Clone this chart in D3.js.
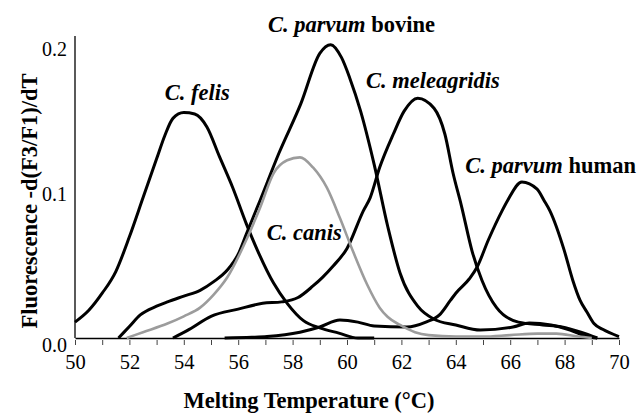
<!DOCTYPE html>
<html>
<head>
<meta charset="utf-8">
<script src="https://cdn.jsdelivr.net/npm/d3@7"></script>
<style>
  html, body { margin: 0; padding: 0; background: #fff; }
  svg { display: block; }
  text { font-family: "Liberation Serif", "Times New Roman", serif; }
</style>
</head>
<body>
<svg id="chart" width="637" height="415"></svg>
<script>
// ---- data ----
const xTicks = [50, 52, 54, 56, 58, 60, 62, 64, 66, 68, 70];
const yTicks = [0.0, 0.1, 0.2];
const yTickLabels = ["0.0", "0.1", "0.2"];

const felis = [[50.0,0.011],[50.5,0.019],[51.0,0.031],[51.5,0.046],[52.0,0.070],[52.5,0.097],[53.0,0.124],[53.3,0.140],[53.6,0.152],[54.0,0.156],[54.4,0.155],[54.85,0.146],[55.3,0.126],[55.8,0.104],[56.3,0.079],[56.7,0.061],[57.3,0.038],[57.8,0.024],[58.4,0.012],[59.0,0.007],[59.7,0.0034],[60.4,0.0],[61.0,0.0]];
const bovine = [[51.6,0.0],[52.0,0.008],[52.4,0.016],[53.0,0.022],[53.4,0.025],[54.0,0.029],[54.6,0.033],[55.1,0.039],[55.6,0.047],[56.0,0.058],[56.3,0.072],[56.8,0.095],[57.5,0.128],[58.3,0.162],[59.0,0.197],[59.4,0.203],[59.8,0.194],[60.1,0.180],[60.5,0.157],[61.0,0.120],[61.5,0.077],[61.95,0.045],[62.6,0.022],[63.2,0.013],[64.0,0.009],[64.9,0.0055],[66.1,0.0076],[66.7,0.0103],[67.5,0.009],[68.2,0.0055],[68.9,0.0007],[69.2,0.0]];
const canis = [[51.9,0.0],[52.5,0.004],[53.4,0.010],[54.0,0.015],[54.6,0.021],[55.1,0.030],[55.6,0.042],[56.3,0.068],[56.8,0.090],[57.3,0.114],[57.8,0.123],[58.27,0.125],[58.75,0.118],[59.26,0.104],[59.74,0.083],[60.22,0.060],[60.74,0.037],[61.2,0.021],[61.5,0.0145],[61.95,0.009],[62.5,0.004],[63.0,0.002],[64.0,0.001],[65.0,0.001],[66.0,0.002],[67.0,0.003],[67.7,0.003],[68.5,0.001],[69.0,0.0]];
const meleagridis = [[53.6,0.0],[54.2,0.006],[55.0,0.015],[56.0,0.020],[56.9,0.024],[57.6,0.025],[58.2,0.028],[58.75,0.036],[59.1,0.042],[59.5,0.050],[60.0,0.062],[60.6,0.088],[60.85,0.097],[61.2,0.118],[61.7,0.141],[62.1,0.157],[62.6,0.166],[63.2,0.159],[63.6,0.141],[63.9,0.114],[64.2,0.092],[64.6,0.060],[64.96,0.040],[65.5,0.021],[66.3,0.011],[67.2,0.009],[67.9,0.0076],[68.6,0.004],[69.2,0.0]];
const human = [[55.5,0.0],[56.5,0.0005],[57.06,0.001],[58.27,0.004],[59.0,0.0076],[59.74,0.0124],[60.4,0.011],[61.0,0.0083],[62.2,0.0076],[62.9,0.011],[63.4,0.016],[63.8,0.026],[64.0,0.031],[64.5,0.041],[64.78,0.049],[65.2,0.068],[65.7,0.088],[65.9,0.095],[66.43,0.108],[66.99,0.103],[67.25,0.095],[67.46,0.088],[67.98,0.061],[68.3,0.040],[68.57,0.026],[68.82,0.018],[69.08,0.010],[69.4,0.0060],[70.0,0.001]];

const labels = [
  {it: "C. felis", rm: "", x: 53.3, y: 0.165},
  {it: "C. parvum", rm: " bovine", x: 57.1, y: 0.212},
  {it: "C. meleagridis", rm: "", x: 60.7, y: 0.173},
  {it: "C. parvum", rm: " human", x: 64.35, y: 0.114},
  {it: "C. canis", rm: "", x: 57.05, y: 0.068}
];

// ---- drawing ----
const svg = d3.select("#chart");
const x = d3.scaleLinear().domain([50, 70]).range([75, 619]);
const y = d3.scaleLinear().domain([0, 0.2]).range([338, 49]);

const line = d3.line().x(d => x(d[0])).y(d => y(d[1])).curve(d3.curveMonotoneX);

// y axis line
svg.append("line").attr("x1", 75).attr("x2", 75).attr("y1", 36).attr("y2", 338)
  .attr("stroke", "#000").attr("stroke-width", 1.3);

// y tick labels
svg.selectAll(".ytl").data(yTicks).join("text")
  .attr("x", 67).attr("y", (d, i) => y(d) + (i === 0 ? 14 : 7))
  .attr("text-anchor", "end").attr("font-size", 20).attr("fill", "#000")
  .text((d, i) => yTickLabels[i]);

// x axis
const xAxis = d3.axisBottom(x).tickValues(d3.range(50, 71, 1)).tickSize(5).tickSizeOuter(0)
  .tickFormat(d => xTicks.includes(d) ? d : "");
const gx = svg.append("g").attr("transform", "translate(0,338)").call(xAxis);
gx.select(".domain").attr("stroke", "#000").attr("stroke-width", 1.3);
gx.selectAll(".tick line").attr("stroke", "#444").attr("stroke-width", 1).attr("y1", 2).attr("y2", 7);
gx.selectAll(".tick text").attr("font-family", "Liberation Serif, serif").attr("font-size", 20.5)
  .attr("fill", "#000").attr("y", 16).attr("dy", "0.71em");

// curves
const series = [
  {d: felis, c: "#000", w: 3},
  {d: bovine, c: "#000", w: 3},
  {d: meleagridis, c: "#000", w: 3},
  {d: human, c: "#000", w: 3},
  {d: canis, c: "#9c9c9c", w: 2.6}
];
svg.selectAll(".curve").data(series).join("path")
  .attr("fill", "none").attr("stroke", d => d.c).attr("stroke-width", d => d.w)
  .attr("stroke-linejoin", "round").attr("d", d => line(d.d));

// series labels
labels.forEach(l => {
  const t = svg.append("text").attr("x", x(l.x)).attr("y", y(l.y))
    .attr("font-size", 22.5).attr("font-weight", "bold").attr("fill", "#000");
  t.append("tspan").attr("font-style", "italic").text(l.it);
  if (l.rm) t.append("tspan").text(l.rm);
});

// axis titles
svg.append("text").attr("x", 309).attr("y", 408).attr("text-anchor", "middle")
  .attr("font-size", 22.5).attr("font-weight", "bold").text("Melting Temperature (°C)");
svg.append("text").attr("transform", "translate(37,201) rotate(-90)").attr("text-anchor", "middle")
  .attr("font-size", 22.5).attr("font-weight", "bold").text("Fluorescence -d(F3/F1)/dT");
</script>
</body>
</html>
